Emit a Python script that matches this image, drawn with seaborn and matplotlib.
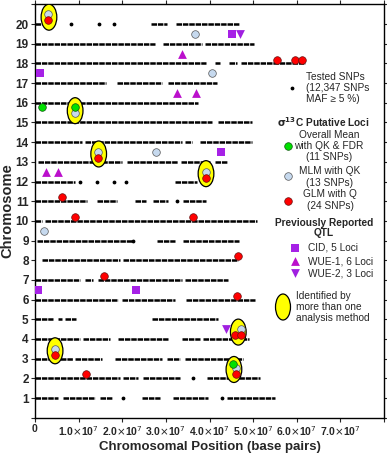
import matplotlib
matplotlib.use("Agg")
import matplotlib.pyplot as plt
from matplotlib.patches import Ellipse
import seaborn as sns
import pandas as pd

# SNP coverage per chromosome: runs of dense SNPs (start, end in Mb)
snp_runs = {
    20: [(0, 1.6), (26.6, 30.3), (32.3, 46.8)],
    19: [(0, 27.5), (29.4, 38.3), (39.0, 50.2)],
    18: [(0, 39.2), (41.3, 42.5), (44.5, 46.3), (47.2, 62.0)],
    17: [(0, 16.3), (18.8, 29.1), (30.5, 41.7)],
    16: [(0, 37.4)],
    15: [(0, 40.6), (42.0, 49.8)],
    14: [(0, 10.8), (11.5, 33.7), (34.4, 36.0), (37.8, 49.8)],
    13: [(0.7, 20.0), (21.0, 32.8), (33.5, 40.0), (41.3, 44.0)],
    12: [(0, 9.2), (32.1, 37.2)],
    11: [(0, 11.9), (14.2, 18.8), (22.9, 25.5), (27.0, 30.5), (33.9, 39.2)],
    10: [(0, 1.6), (2.3, 51.0)],
    9: [(0.5, 22.5), (27.9, 32.0), (33.9, 46.8)],
    8: [(1.6, 19.5), (20.2, 46.6)],
    7: [(0, 10.3), (11.5, 13.3), (14.4, 33.7), (34.4, 44.3)],
    6: [(0, 19.0), (20.0, 28.7), (28.7, 32.0), (34.6, 50.5)],
    5: [(0, 4.1), (5.2, 6.2), (6.9, 9.4), (26.8, 42.0)],
    4: [(0, 10.3), (11.0, 17.2), (19.0, 30.5), (33.7, 37.8), (38.5, 49.1)],
    3: [(0, 8.7), (9.2, 15.4), (18.3, 29.1), (30.3, 33.3), (34.4, 47.7)],
    2: [(0, 19.5), (20.2, 23.6), (24.8, 33.3), (39.4, 51.6)],
    1: [(0, 5.3), (6.4, 13.8), (15.0, 17.7), (24.5, 28.7), (31.7, 39.7), (44.0, 55.0)],
}
# isolated SNPs (chromosome, Mb)
snp_single_chr = [20, 20, 20, 12, 12, 12, 12, 11, 9, 2, 1, 1]
snp_single_mb = [8.3, 14.7, 18.1, 10.3, 14.2, 18.1, 20.9, 32.6, 22.5, 36.2, 20.2, 42.9]

# putative loci (y = chromosome + offset, x in Mb)
green_y = [15.8, 15.8, 2.75]
green_x = [1.6, 9.2, 45.4]
blue_y = [20.5, 19.5, 17.5, 15.5, 13.5, 13.5, 12.5, 9.5, 4.5, 3.5, 2.5]
blue_x = [3.0, 36.7, 40.6, 9.2, 14.5, 27.7, 39.2, 2.1, 47.2, 4.6, 46.1]
red_y = [20.2, 18.2, 18.2, 18.2, 13.2, 12.2, 11.2, 10.2, 10.2, 8.2, 7.2, 6.2,
         4.2, 4.2, 3.2, 2.2, 2.2]
red_x = [3.0, 55.5, 59.6, 61.2, 14.5, 39.2, 6.2, 9.2, 36.3, 46.6, 15.8, 46.3,
         45.9, 47.2, 4.6, 11.7, 46.1]

# previously reported QTL
cid_y = [19.5, 17.5, 13.5, 6.5, 6.5]
cid_x = [45.2, 1.1, 42.7, 0.8, 23.1]
wue1_y = [18.5, 16.5, 16.5, 12.5, 12.5]
wue1_x = [33.7, 32.6, 36.9, 2.5, 5.3]
wue2_y = [19.5, 4.5]
wue2_x = [47.0, 43.8]

# loci identified by more than one method (centre Mb, centre y)
multi_x = [3.2, 9.2, 14.6, 39.2, 46.6, 4.6, 45.6]
multi_y = [20.35, 15.6, 13.4, 12.4, 4.35, 3.4, 2.45]

sns.set_style("ticks")
plt.rcParams['font.family'] = ['Liberation Sans', 'DejaVu Sans']

fig = plt.figure(figsize=(3.87, 4.54), dpi=100)
ax = fig.add_axes([35 / 387, 1 - 417.7 / 454, 349 / 387, 413.3 / 454])

for chrom, runs in snp_runs.items():
    for a, b in runs:
        ax.hlines(chrom, a * 1e6, b * 1e6, color="black", lw=1.8,
                  linestyles=(0, (2.2, 0.35)), zorder=2)
ax.scatter([m * 1e6 for m in snp_single_mb], snp_single_chr, s=3, color="black", zorder=2)

for x, y in zip(multi_x, multi_y):
    ax.add_patch(Ellipse((x * 1e6, y), width=3.6e6, height=1.32, facecolor="#ffff00",
                         edgecolor="black", lw=0.9, zorder=3))

pts = pd.DataFrame({
    "x": [v * 1e6 for v in green_x + blue_x + red_x],
    "y": green_y + blue_y + red_y,
    "kind": ["green"] * len(green_x) + ["blue"] * len(blue_x) + ["red"] * len(red_x),
})
pal = {"green": "#00e000", "blue": "#c6d9ee", "red": "#ff0000"}
for k, ec in [("blue", "#555555"), ("red", "#661111"), ("green", "#115511")]:
    sub = pts[pts.kind == k]
    sns.scatterplot(data=sub, x="x", y="y", color=pal[k], edgecolor=ec, linewidth=0.5,
                    s=30, ax=ax, zorder=4, legend=False)

ax.scatter([v * 1e6 for v in cid_x], cid_y, marker="s", s=36, color="#a621e6", zorder=4, lw=0)
ax.scatter([v * 1e6 for v in wue1_x], wue1_y, marker="^", s=40, color="#bb10cc", zorder=4, lw=0)
ax.scatter([v * 1e6 for v in wue2_x], wue2_y, marker="v", s=40, color="#a020e0", zorder=4, lw=0)

ax.set_xlim(0, 8e7)
ax.set_ylim(0, 21)
xt = [0, 1e7, 2e7, 3e7, 4e7, 5e7, 6e7, 7e7, 8e7]
ax.set_xticks(xt)
ax.set_xticklabels(["0"] + [r"%d.0$\times$10$^{7}$" % i for i in range(1, 8)] + [""],
                   fontsize=7.5, fontweight="bold")
ax.set_yticks(range(0, 22))
ax.set_yticklabels([""] + [str(i) for i in range(1, 21)] + [""], fontsize=8.5, fontweight="bold")
ax.tick_params(axis="both", direction="out", length=3, width=0.8, pad=1.5)
ax.tick_params(top=True, right=True)
for s in ax.spines.values():
    s.set_linewidth(1.0)
    s.set_color("black")
ax.set_xlabel("Chromosomal Position (base pairs)", fontsize=9.5, fontweight="bold", labelpad=2)
ax.set_ylabel("Chromosome", fontsize=10.5, fontweight="bold", labelpad=1)


def axp(px, py):
    return (px - 35) / 349, (417.7 - py) / 413.3


tr = ax.transAxes
fs = 7.3
# tested SNPs
ax.scatter(*axp(292, 88), s=3, color="black", transform=tr, clip_on=False)
ax.text(*axp(306, 88), "Tested SNPs\n(12,347 SNPs\nMAF \u2265 5 %)", transform=tr,
        fontsize=fs, va="center", ha="left", linespacing=1.15)
ax.text(*axp(323, 122), r"$\mathbf{\sigma^{13}}$C Putative Loci", transform=tr,
        fontsize=fs, fontweight="bold", ha="center", va="center")
ax.scatter(*axp(288, 146), s=30, color="#00e000", edgecolor="#115511", lw=0.5, transform=tr)
ax.text(*axp(329, 146), "Overall Mean\nwith QK & FDR\n(11 SNPs)", transform=tr,
        fontsize=fs, ha="center", va="center", linespacing=1.15)
ax.scatter(*axp(288, 176), s=30, color="#c6d9ee", edgecolor="#555555", lw=0.5, transform=tr)
ax.text(*axp(330, 177), "MLM with QK\n(13 SNPs)", transform=tr,
        fontsize=fs, ha="center", va="center", linespacing=1.15)
ax.scatter(*axp(288, 201), s=30, color="#ff0000", edgecolor="#661111", lw=0.5, transform=tr)
ax.text(*axp(330, 200), "GLM with Q\n(24 SNPs)", transform=tr,
        fontsize=fs, ha="center", va="center", linespacing=1.15)
ax.text(*axp(324, 228), "Previously Reported\nQTL", transform=tr,
        fontsize=fs, fontweight="bold", ha="center", va="center", linespacing=1.1)
ax.scatter(*axp(295, 248), marker="s", s=36, color="#a621e6", lw=0, transform=tr)
ax.text(*axp(308, 248), "CID, 5 Loci", transform=tr, fontsize=fs, va="center")
ax.scatter(*axp(295, 261), marker="^", s=40, color="#bb10cc", lw=0, transform=tr)
ax.text(*axp(308, 261), "WUE-1, 6 Loci", transform=tr, fontsize=fs, va="center")
ax.scatter(*axp(295, 273), marker="v", s=40, color="#a020e0", lw=0, transform=tr)
ax.text(*axp(308, 273), "WUE-2, 3 Loci", transform=tr, fontsize=fs, va="center")
ax.add_patch(Ellipse(axp(283, 307), width=15 / 349, height=26 / 413.3, transform=tr,
                     facecolor="#ffff00", edgecolor="black", lw=0.9))
ax.text(*axp(296, 307), "Identified by\nmore than one\nanalysis method", transform=tr,
        fontsize=fs, va="center", ha="left", linespacing=1.15)

fig.savefig("out.png", dpi=100)
